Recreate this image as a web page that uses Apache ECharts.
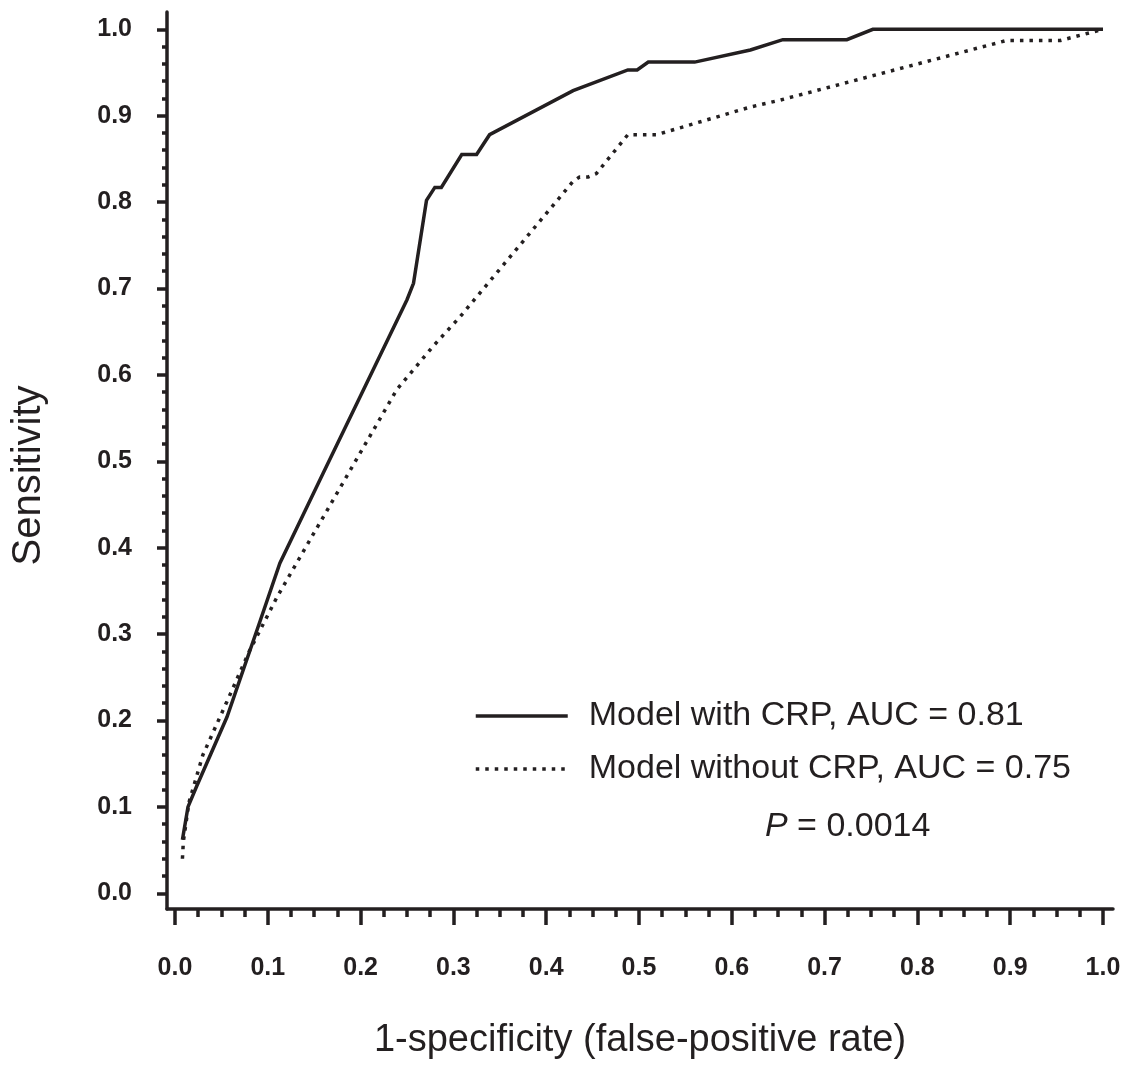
<!DOCTYPE html>
<html><head><meta charset="utf-8">
<script src="https://cdn.jsdelivr.net/npm/echarts@6/dist/echarts.min.js"></script>
<style>html,body{margin:0;padding:0;background:#fff}#c{width:1126px;height:1068px}</style>
</head><body><div id="c"></div>
<script>
// ---- data ----
const seriesNames = ['Model with CRP, AUC = 0.81', 'Model without CRP, AUC = 0.75'];
const withCrpFpr  = [0.008, 0.014, 0.023, 0.056, 0.092, 0.113, 0.160, 0.250, 0.257, 0.271, 0.280, 0.287, 0.309, 0.325, 0.339, 0.429, 0.488, 0.498, 0.510, 0.560, 0.620, 0.655, 0.724, 0.752, 1.000];
const withCrpTpr  = [0.062, 0.100, 0.123, 0.204, 0.316, 0.382, 0.487, 0.687, 0.706, 0.802, 0.817, 0.817, 0.855, 0.855, 0.878, 0.929, 0.953, 0.953, 0.962, 0.962, 0.976, 0.988, 0.988, 1.000, 1.000];
const withoutCrpFpr = [0.008, 0.009, 0.015, 0.030, 0.056, 0.080, 0.110, 0.239, 0.278, 0.307, 0.429, 0.436, 0.445, 0.454, 0.488, 0.519, 0.620, 0.652, 0.896, 0.954, 1.000];
const withoutCrpTpr = [0.040, 0.060, 0.105, 0.160, 0.222, 0.280, 0.343, 0.583, 0.633, 0.667, 0.824, 0.829, 0.829, 0.833, 0.878, 0.878, 0.910, 0.918, 0.987, 0.987, 1.000];
const xMajorTicks = [0.0, 0.1, 0.2, 0.3, 0.4, 0.5, 0.6, 0.7, 0.8, 0.9, 1.0];
const yMajorTicks = [0.0, 0.1, 0.2, 0.3, 0.4, 0.5, 0.6, 0.7, 0.8, 0.9, 1.0];
const xMinorTicks = [0.025, 0.05, 0.075, 0.125, 0.15, 0.175, 0.225, 0.25, 0.275, 0.325, 0.35, 0.375, 0.425, 0.45, 0.475, 0.525, 0.55, 0.575, 0.625, 0.65, 0.675, 0.725, 0.75, 0.775, 0.825, 0.85, 0.875, 0.925, 0.95, 0.975];
const yMinorTicks = [0.02, 0.04, 0.06, 0.08, 0.12, 0.14, 0.16, 0.18, 0.22, 0.24, 0.26, 0.28, 0.32, 0.34, 0.36, 0.38, 0.42, 0.44, 0.46, 0.48, 0.52, 0.54, 0.56, 0.58, 0.62, 0.64, 0.66, 0.68, 0.72, 0.74, 0.76, 0.78, 0.82, 0.84, 0.86, 0.88, 0.92, 0.94, 0.96, 0.98];
const xAxisTitle = '1-specificity (false-positive rate)';
const yAxisTitle = 'Sensitivity';
const pValueText = '0.0014';

// ---- chart ----
const INK = '#231f20';
const FONT = '"Liberation Sans", Arial, Helvetica, sans-serif';
const X_MIN = -0.00862, X_MAX = 1.01078;
const Y_MIN = -0.01817, Y_MAX = 1.0200;
const DOT = [3.5, 6];

function zip(a, b) { return a.map((v, i) => [v, b[i]]); }

const chart = echarts.init(document.getElementById('c'), null, {renderer: 'canvas'});
const option = {
  backgroundColor: '#fff',
  animation: false,
  textStyle: {fontFamily: FONT, color: INK},
  grid: {left: 167, right: 13, top: 12, bottom: 159, containLabel: false},
  xAxis: [{
    type: 'value', min: X_MIN, max: X_MAX, position: 'bottom',
    splitLine: {show: false},
    axisLine: {show: true, onZero: false, lineStyle: {color: INK, width: 3.5}},
    axisTick: {show: true, customValues: xMajorTicks, length: 16, lineStyle: {color: INK, width: 3.5}},
    axisLabel: {show: true, customValues: xMajorTicks, margin: 47, fontSize: 25, fontWeight: 'bold', color: INK, fontFamily: FONT,
      formatter: v => v.toFixed(1)},
    name: xAxisTitle, nameLocation: 'middle', nameGap: 113,
    nameTextStyle: {fontSize: 38, color: INK, fontFamily: FONT}
  }, {
    type: 'value', min: X_MIN, max: X_MAX, position: 'bottom', gridIndex: 0,
    splitLine: {show: false},
    axisLine: {show: false, onZero: false},
    axisTick: {show: true, customValues: xMinorTicks, length: 8, lineStyle: {color: INK, width: 3.5}},
    axisLabel: {show: false}
  }],
  yAxis: [{
    type: 'value', min: Y_MIN, max: Y_MAX, position: 'left',
    splitLine: {show: false},
    axisLine: {show: true, onZero: false, lineStyle: {color: INK, width: 3.5}},
    axisTick: {show: true, customValues: yMajorTicks, length: 10, lineStyle: {color: INK, width: 3.5}},
    axisLabel: {show: true, customValues: yMajorTicks, margin: 35, fontSize: 25, fontWeight: 'bold', color: INK, fontFamily: FONT,
      formatter: v => v.toFixed(1)},
    name: yAxisTitle, nameLocation: 'middle', nameGap: 118, nameRotate: 90,
    nameTextStyle: {fontSize: 40, color: INK, fontFamily: FONT, padding: [0, 30, 0, 0]}
  }, {
    type: 'value', min: Y_MIN, max: Y_MAX, position: 'left', gridIndex: 0,
    splitLine: {show: false},
    axisLine: {show: false, onZero: false},
    axisTick: {show: true, customValues: yMinorTicks, length: 5, lineStyle: {color: INK, width: 3.5}},
    axisLabel: {show: false}
  }],
  legend: {
    orient: 'vertical', left: 474, top: 699, padding: 0,
    itemWidth: 92, itemHeight: 14, itemGap: 19,
    itemStyle: {opacity: 0, borderWidth: 0},
    textStyle: {fontSize: 34, color: INK, fontFamily: FONT, padding: [0, 0, 0, 16]},
    data: [
      {name: seriesNames[0], lineStyle: {width: 3.5, color: INK, type: 'solid'}},
      {name: seriesNames[1], lineStyle: {width: 3.5, color: INK, type: DOT, cap: 'butt'}}
    ]
  },
  graphic: [{
    type: 'text', left: 765, top: 810,
    style: {
      text: '{i|P} = ' + pValueText,
      font: '34px ' + FONT, fill: INK,
      rich: {i: {fontStyle: 'italic', fontSize: 34, fontFamily: FONT, fill: INK}}
    }
  }],
  series: [{
    name: seriesNames[0], type: 'line', xAxisIndex: 0, yAxisIndex: 0,
    data: zip(withCrpFpr, withCrpTpr),
    showSymbol: false, symbol: 'none', smooth: false,
    lineStyle: {color: INK, width: 3.5, type: 'solid', join: 'miter'},
    itemStyle: {color: INK}
  }, {
    name: seriesNames[1], type: 'line', xAxisIndex: 0, yAxisIndex: 0,
    data: zip(withoutCrpFpr, withoutCrpTpr),
    showSymbol: false, symbol: 'none', smooth: false,
    lineStyle: {color: INK, width: 3.5, type: DOT, cap: 'butt'},
    itemStyle: {color: INK}
  }]
};
chart.setOption(option);
</script>
</body></html>
